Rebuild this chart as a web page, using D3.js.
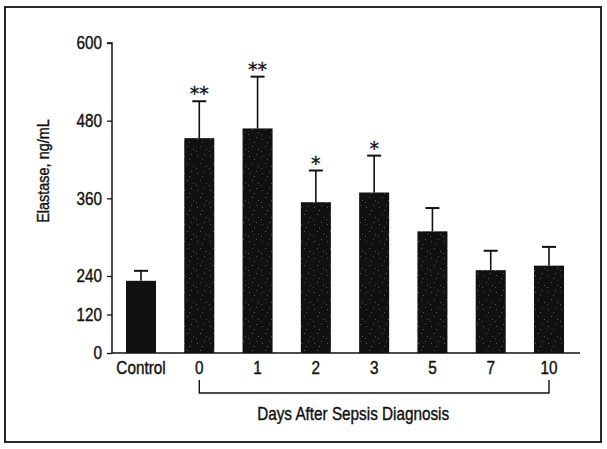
<!DOCTYPE html>
<html>
<head>
<meta charset="utf-8">
<script src="https://cdn.jsdelivr.net/npm/d3@7"></script>
<style>
  body { margin: 0; background: #fff; }
  svg { display: block; }
  text { font-family: "Liberation Sans", Arial, sans-serif; fill: #111; stroke: #111; stroke-width: 0.4px; }
</style>
</head>
<body>
<svg id="chart" width="607" height="449"></svg>
<script>
// data
const categories = ['Control', '0', '1', '2', '3', '5', '7', '10'];
const means = [225, 453, 468, 354, 369, 309, 249, 256];
const errTops = [248, 510, 548, 403, 426, 345, 279, 285];
const stars = ['', '**', '**', '*', '*', '', '', ''];
const yTicks = [0, 120, 240, 360, 480, 600];

// configs
const AXIS_X = 112;
const PLOT_RIGHT = 580;
const Y_BOTTOM = 353;
const BAR_COLOR = '#111';
const CAP_W = 14;
const FONT = 18;
const SQUEEZE = 0.85;          // horizontal squeeze to mimic a condensed face

const svg = d3.select('#chart');

// condensed text helper: position, then squeeze horizontally
function label(parent, x, y, str, size, anchor = 'middle', rot = 0) {
  return parent.append('text')
    .attr('transform', `translate(${x},${y}) rotate(${rot}) scale(${SQUEEZE},1)`)
    .attr('text-anchor', anchor)
    .style('font-size', size + 'px')
    .text(str);
}

// outer frame
svg.append('rect')
  .attr('x', 5).attr('y', 7)
  .attr('width', 596).attr('height', 435)
  .attr('fill', 'none')
  .attr('stroke', '#111')
  .attr('stroke-width', 1.8);

// sparse speckle texture for day bars
const defs = svg.append('defs');
const pat = defs.append('pattern')
  .attr('id', 'speckle')
  .attr('patternUnits', 'userSpaceOnUse')
  .attr('width', 13).attr('height', 17);
pat.append('rect').attr('width', 13).attr('height', 17).attr('fill', BAR_COLOR);
[[2, 3], [9, 1], [5, 10], [11, 13], [1, 15], [7, 6]].forEach(([x, y]) => {
  pat.append('rect').attr('x', x).attr('y', y).attr('width', 1).attr('height', 1)
    .attr('fill', '#5a5a5a');
});

// broken scale: 0-240 compressed, 240-600 expanded
const y = d3.scaleLinear()
  .domain([0, 240, 600])
  .range([Y_BOTTOM, 276, 43]);

const x = d3.scaleBand()
  .domain(categories)
  .range([AXIS_X, 578])
  .paddingInner(0.485)
  .paddingOuter(0.24);

const cx = d => x(d) + x.bandwidth() / 2;
const g = svg.append('g');

// bars
g.selectAll('rect.bar')
  .data(categories)
  .enter().append('rect')
  .attr('class', 'bar')
  .attr('x', d => x(d))
  .attr('width', x.bandwidth())
  .attr('y', (d, i) => y(means[i]))
  .attr('height', (d, i) => Y_BOTTOM - y(means[i]))
  .attr('fill', (d, i) => i === 0 ? BAR_COLOR : 'url(#speckle)');

// error whiskers (upper only)
g.selectAll('line.whisker')
  .data(categories)
  .enter().append('line')
  .attr('x1', cx).attr('x2', cx)
  .attr('y1', (d, i) => y(means[i]))
  .attr('y2', (d, i) => y(errTops[i]))
  .attr('stroke', '#111').attr('stroke-width', 1.6);

g.selectAll('line.cap')
  .data(categories)
  .enter().append('line')
  .attr('x1', d => cx(d) - CAP_W / 2).attr('x2', d => cx(d) + CAP_W / 2)
  .attr('y1', (d, i) => y(errTops[i]))
  .attr('y2', (d, i) => y(errTops[i]))
  .attr('stroke', '#111').attr('stroke-width', 2);

// significance stars
g.selectAll('text.star')
  .data(categories)
  .enter().append('text')
  .attr('x', cx)
  .attr('y', (d, i) => y(errTops[i]) - 1)
  .attr('text-anchor', 'middle')
  .style('font-family', '"DejaVu Sans", sans-serif')
  .style('font-size', '19px')
  .style('stroke-width', '0.3px')
  .text((d, i) => stars[i]);

// y axis
const yAxis = d3.axisLeft(y)
  .tickValues(yTicks)
  .tickSize(5)
  .tickPadding(4);
const yg = svg.append('g')
  .attr('transform', `translate(${AXIS_X},0)`)
  .attr('font-family', null)
  .call(yAxis);
yg.select('.domain').attr('stroke', '#111').attr('stroke-width', 1.5)
  .attr('d', `M-5,${y(600)}H0V${Y_BOTTOM}`);
yg.selectAll('.tick line').attr('stroke', '#111').attr('stroke-width', 1.3);
yg.selectAll('.tick text')
  .attr('x', -10 / SQUEEZE)
  .attr('transform', `scale(${SQUEEZE},1)`)
  .attr('fill', '#111')
  .style('font-size', FONT + 'px');

// x baseline
svg.append('line')
  .attr('x1', AXIS_X).attr('x2', PLOT_RIGHT)
  .attr('y1', Y_BOTTOM).attr('y2', Y_BOTTOM)
  .attr('stroke', '#111').attr('stroke-width', 1.5);

// category labels
categories.forEach(c => label(svg, cx(c), 374, c, FONT));

// bracket under the day labels
const bx0 = cx('0'), bx1 = cx('10');
svg.append('path')
  .attr('d', `M${bx0},380V393H${bx1}V380`)
  .attr('fill', 'none')
  .attr('stroke', '#111')
  .attr('stroke-width', 1.4);

label(svg, bx0 + 0.44 * (bx1 - bx0), 420, 'Days After Sepsis Diagnosis', FONT);

// y label
label(svg, 49, 171, 'Elastase, ng/mL', 17, 'middle', -90);
</script>
</body>
</html>
